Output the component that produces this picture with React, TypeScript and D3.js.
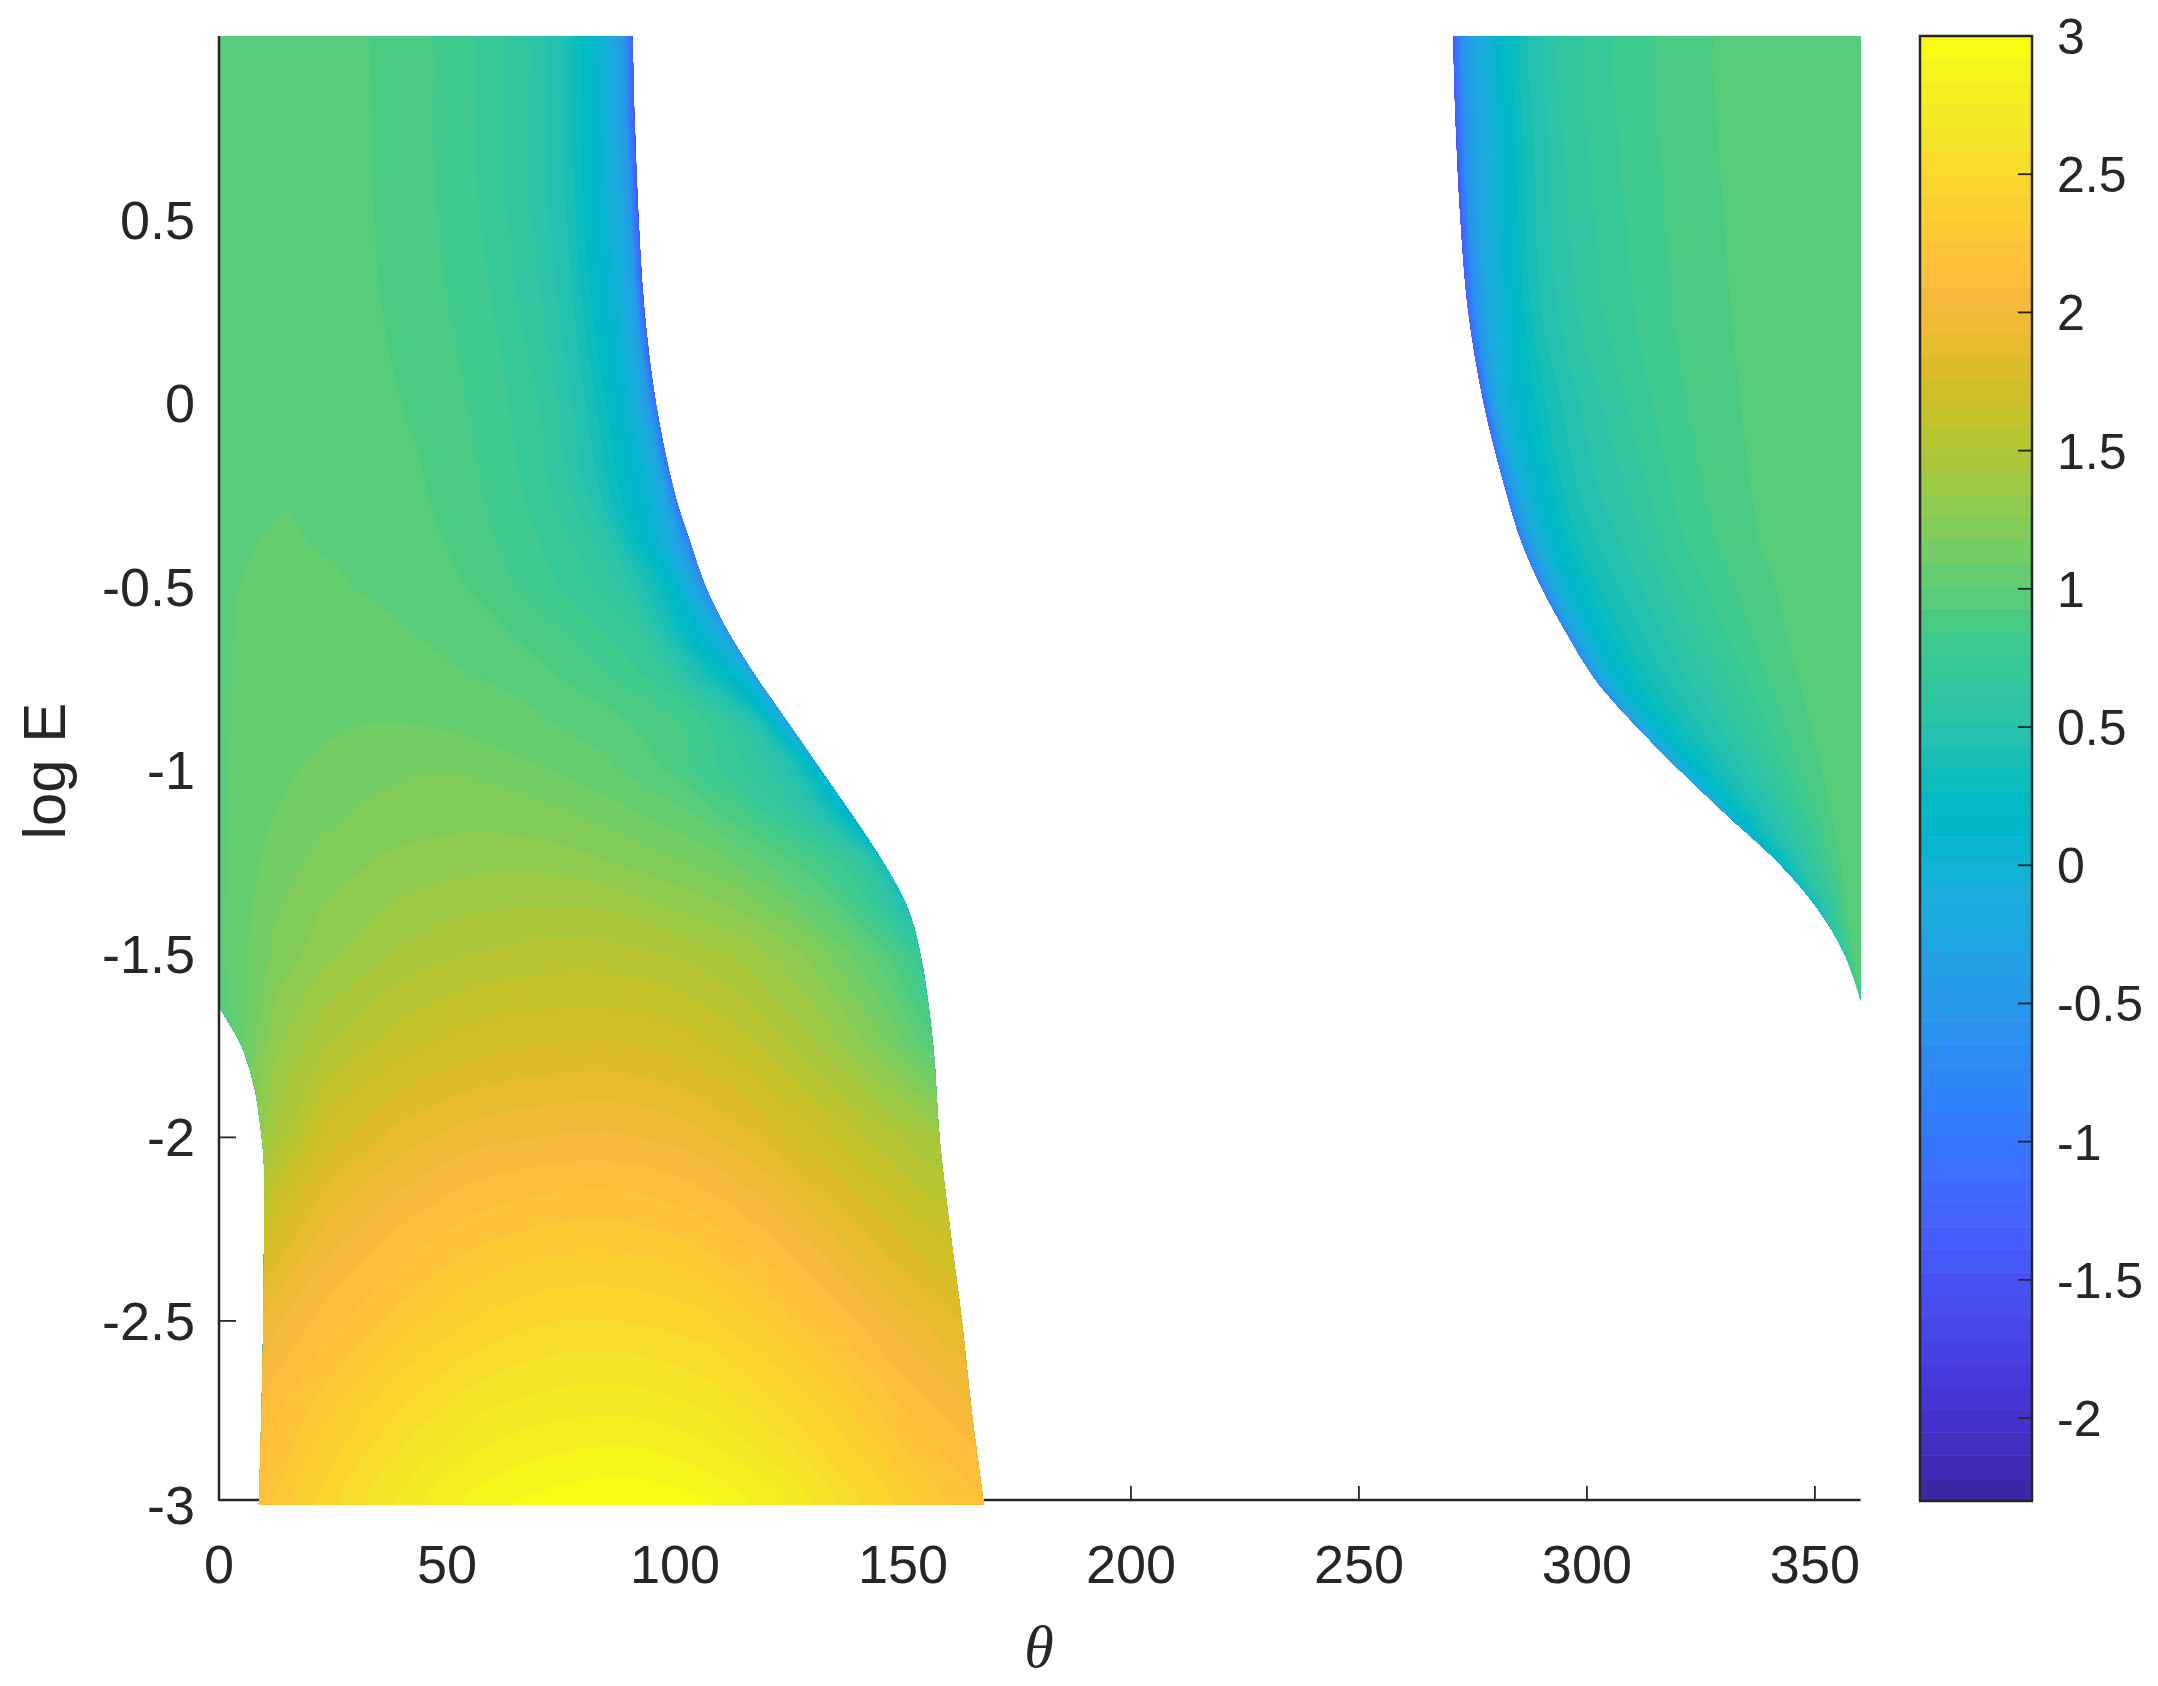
import React from 'react';
import * as d3 from 'd3';

// matlab parula, one row per contour band
const parula = [
  [0.2422,0.1504,0.6603],[0.2504,0.165,0.7076],[0.2578,0.1818,0.7511],[0.2647,0.1978,0.7952],
  [0.2706,0.2147,0.8364],[0.2751,0.2342,0.871],[0.2783,0.2559,0.8991],[0.2803,0.2782,0.9221],
  [0.2813,0.3006,0.9414],[0.281,0.3228,0.9579],[0.2795,0.3447,0.9717],[0.276,0.3667,0.9829],
  [0.2699,0.3892,0.9906],[0.2602,0.4123,0.9952],[0.244,0.4358,0.9988],[0.2206,0.4603,0.9973],
  [0.1963,0.4847,0.9892],[0.1834,0.5074,0.9798],[0.1786,0.5289,0.9682],[0.1764,0.5499,0.952],
  [0.1687,0.5703,0.9359],[0.154,0.5902,0.9218],[0.146,0.6091,0.9079],[0.138,0.6276,0.8973],
  [0.1248,0.6459,0.8883],[0.1113,0.6635,0.8763],[0.0952,0.6798,0.8598],[0.0689,0.6948,0.8394],
  [0.0297,0.7082,0.8163],[0.0036,0.7203,0.7917],[0.0067,0.7312,0.766],[0.0433,0.7411,0.7394],
  [0.0964,0.75,0.712],[0.1408,0.7584,0.6842],[0.1717,0.767,0.6554],[0.1938,0.7758,0.6251],
  [0.2161,0.7843,0.5923],[0.247,0.7918,0.5567],[0.2906,0.7973,0.5188],[0.3406,0.8008,0.4789],
  [0.3909,0.8029,0.4354],[0.4456,0.8024,0.3909],[0.5044,0.7993,0.348],[0.5616,0.7942,0.3045],
  [0.6174,0.7876,0.2612],[0.672,0.7793,0.2227],[0.7242,0.7698,0.191],[0.7738,0.7598,0.1646],
  [0.8203,0.7498,0.1535],[0.8634,0.7406,0.1596],[0.9035,0.733,0.1774],[0.9393,0.7288,0.21],
  [0.9728,0.7298,0.2394],[0.9956,0.7434,0.2371],[0.997,0.7659,0.2199],[0.9952,0.7893,0.2028],
  [0.9892,0.8136,0.1885],[0.9786,0.8386,0.1766],[0.9676,0.8639,0.1643],[0.961,0.889,0.1537],
  [0.9597,0.9135,0.1423],[0.9628,0.9373,0.1265],[0.9691,0.9606,0.1064],[0.9769,0.9839,0.0805],
];

const thetaTicks = [0, 50, 100, 150, 200, 250, 300, 350];
const logETicks = [-3, -2.5, -2, -1.5, -1, -0.5, 0, 0.5];
const barTicks = [3, 2.5, 2, 1.5, 1, 0.5, 0, -0.5, -1, -1.5, -2];
const barMin = -2.3;
const barMax = 3;

// left lobe: each row runs from theta=0 to leftEdge, columns are fractions of that
const leftFractions = [0, 0.04, 0.08, 0.15, 0.25, 0.35, 0.45, 0.55, 0.65, 0.75, 0.83, 0.9, 0.95, 0.98, 1];
const leftRows = [-3, -2.75, -2.5, -2.25, -2, -1.75, -1.5, -1.375, -1.25, -1.125, -1, -0.875, -0.75, -0.625, -0.5, -0.375, -0.25, 0, 0.25, 0.5, 0.75, 1];
const leftEdge = [167.8, 165.1, 162.9, 160.3, 158, 156.6, 153.8, 151, 145.6, 139, 132, 125, 118, 111.7, 106.7, 103.2, 100, 95.8, 93.3, 92, 91.2, 90.7];
const leftValues = [
  [2.1, 2.18, 2.28, 2.48, 2.72, 2.89, 2.97, 2.99, 2.91, 2.73, 2.53, 2.37, 2.27, 2.22, 2.18],
  [2.0, 2.05, 2.17, 2.33, 2.53, 2.67, 2.73, 2.74, 2.67, 2.52, 2.37, 2.2, 2.1, 2.05, 2.02],
  [1.8, 1.88, 2.0, 2.14, 2.3, 2.43, 2.5, 2.5, 2.45, 2.3, 2.15, 2.0, 1.92, 1.87, 1.85],
  [1.5, 1.58, 1.75, 1.95, 2.1, 2.21, 2.27, 2.28, 2.22, 2.08, 1.93, 1.8, 1.72, 1.67, 1.65],
  [1.1, 1.25, 1.45, 1.72, 1.88, 1.97, 2.01, 2.02, 1.97, 1.84, 1.7, 1.58, 1.49, 1.44, 1.42],
  [0.93, 1.12, 1.33, 1.5, 1.64, 1.72, 1.76, 1.77, 1.72, 1.6, 1.44, 1.28, 1.14, 1.03, 0.97],
  [0.992, 1.095, 1.195, 1.315, 1.435, 1.505, 1.54, 1.54, 1.5, 1.4, 1.27, 1.1, 0.95, 0.82, 0.7],
  [0.994, 1.075, 1.165, 1.265, 1.35, 1.41, 1.43, 1.425, 1.34, 1.26, 1.12, 0.96, 0.76, 0.58, 0.45],
  [0.994, 1.065, 1.12, 1.2, 1.275, 1.305, 1.315, 1.285, 1.22, 1.13, 1.0, 0.86, 0.72, 0.56, 0.35],
  [0.997, 1.05, 1.09, 1.15, 1.2, 1.23, 1.225, 1.19, 1.115, 1.02, 0.87, 0.68, 0.5, 0.28, 0.1],
  [0.999, 1.035, 1.065, 1.105, 1.15, 1.175, 1.155, 1.095, 1.03, 0.92, 0.77, 0.64, 0.5, 0.27, 0.05],
  [1.004, 1.02, 1.045, 1.07, 1.095, 1.095, 1.06, 1.03, 0.985, 0.91, 0.83, 0.66, 0.46, 0.1, -0.25],
  [1.0, 1.02, 1.03, 1.04, 1.04, 1.03, 1.02, 0.995, 0.92, 0.825, 0.72, 0.44, 0.2, 0.05, -0.3],
  [0.992, 1.02, 1.025, 1.03, 1.03, 1.025, 0.987, 0.945, 0.87, 0.775, 0.683, 0.33, 0.07, -0.15, -0.45],
  [1.0, 1.012, 1.02, 1.03, 1.02, 0.99, 0.965, 0.905, 0.81, 0.717, 0.59, 0.35, 0.05, -0.3, -0.7],
  [0.97, 0.995, 1.012, 1.02, 1.0, 0.975, 0.95, 0.88, 0.795, 0.69, 0.53, 0.2, -0.05, -0.4, -0.9],
  [0.97, 0.985, 1.004, 1.008, 0.985, 0.965, 0.935, 0.873, 0.786, 0.655, 0.46, 0.2, 0.0, -0.3, -1.0],
  [0.97, 0.97, 0.98, 0.98, 0.965, 0.95, 0.92, 0.86, 0.78, 0.66, 0.465, 0.22, -0.02, -0.4, -1.1],
  [0.97, 0.97, 0.97, 0.97, 0.96, 0.945, 0.9, 0.842, 0.76, 0.62, 0.45, 0.18, -0.03, -0.38, -1.25],
  [0.97, 0.97, 0.97, 0.97, 0.955, 0.94, 0.89, 0.83, 0.74, 0.59, 0.43, 0.15, -0.1, -0.45, -1.35],
  [0.97, 0.97, 0.97, 0.97, 0.955, 0.938, 0.89, 0.825, 0.73, 0.585, 0.43, 0.15, -0.15, -0.5, -1.38],
  [0.97, 0.97, 0.97, 0.97, 0.955, 0.935, 0.89, 0.82, 0.73, 0.59, 0.44, 0.15, -0.18, -0.55, -1.4],
];
// white notch at the lower left of the left lobe
const notchTheta = [8.8, 9.6, 9.9, 9.9, 9.1, 7.7, 4.9, 0];
const notchLogE = [-3, -2.6, -2.25, -2.08, -1.97, -1.86, -1.75, -1.645];

// right lobe: columns are fractions of the way from theta=360 back to rightEdge
const rightFractions = [0, 0.15, 0.3, 0.45, 0.55, 0.65, 0.75, 0.83, 0.9, 0.95, 0.98, 1];
const rightRows = [-1.628, -1.5, -1.375, -1.25, -1.125, -1, -0.875, -0.75, -0.625, -0.5, -0.375, -0.25, 0, 0.25, 0.5, 0.75, 1];
const rightEdge = [360, 356.5, 350.5, 341.9, 331, 320.4, 310.5, 301.7, 295.5, 290, 285.6, 282.5, 277.4, 274, 272.3, 271.3, 270.7];
const rightValues = [
  [0.9, 0.9, 0.9, 0.9, 0.9, 0.9, 0.9, 0.9, 0.9, 0.9, 0.9, 0.9],
  [1.0, 1.0, 0.98, 0.96, 0.92, 0.87, 0.82, 0.77, 0.72, 0.68, 0.66, 0.62],
  [1.0, 1.0, 0.95, 0.82, 0.75, 0.67, 0.6, 0.53, 0.47, 0.42, 0.38, 0.35],
  [1.0, 0.99, 0.89, 0.76, 0.68, 0.59, 0.5, 0.42, 0.33, 0.24, 0.18, 0.12],
  [1.0, 0.98, 0.87, 0.72, 0.6, 0.5, 0.42, 0.33, 0.22, 0.1, 0.0, -0.1],
  [1.0, 0.975, 0.87, 0.725, 0.6, 0.5, 0.4, 0.3, 0.18, 0.03, -0.1, -0.25],
  [1.0, 0.975, 0.88, 0.725, 0.61, 0.5, 0.4, 0.3, 0.17, 0.0, -0.2, -0.45],
  [1.0, 0.975, 0.895, 0.74, 0.623, 0.52, 0.41, 0.3, 0.15, -0.05, -0.3, -0.6],
  [1.0, 0.975, 0.91, 0.777, 0.666, 0.55, 0.42, 0.32, 0.15, -0.1, -0.35, -0.7],
  [0.99, 0.97, 0.918, 0.8, 0.69, 0.56, 0.44, 0.33, 0.15, -0.1, -0.4, -0.8],
  [0.985, 0.97, 0.93, 0.83, 0.735, 0.585, 0.47, 0.36, 0.15, -0.1, -0.42, -0.85],
  [0.98, 0.965, 0.935, 0.84, 0.745, 0.61, 0.5, 0.38, 0.15, -0.07, -0.42, -0.9],
  [0.96, 0.96, 0.94, 0.856, 0.767, 0.65, 0.51, 0.37, 0.15, -0.05, -0.45, -1.15],
  [0.96, 0.96, 0.945, 0.87, 0.79, 0.69, 0.56, 0.4, 0.07, -0.2, -0.6, -1.2],
  [0.96, 0.96, 0.95, 0.875, 0.8, 0.7, 0.57, 0.39, 0.05, -0.25, -0.62, -1.3],
  [0.96, 0.96, 0.955, 0.885, 0.81, 0.72, 0.58, 0.38, 0.03, -0.28, -0.65, -1.35],
  [0.96, 0.96, 0.955, 0.885, 0.81, 0.72, 0.58, 0.38, 0.03, -0.3, -0.65, -1.4],
];

const W = 2158;
const H = 1686;
const plot = { left: 219, right: 1860.5, top: 36, bottom: 1504.5, axisY: 1500 };
const bar = { left: 1920, right: 2032, top: 36, bottom: 1501 };
const ink = '#262626';
const sans = '"Liberation Sans", Arial, sans-serif';

const xScale = d3.scaleLinear().domain([0, 360]).range([plot.left, plot.right]);
const yScale = d3.scaleLinear().domain([-3, 1]).range([plot.bottom, plot.top]);
const barScale = d3.scaleLinear().domain([barMin, barMax]).range([bar.bottom, bar.top]);

const rgb = (c: number[]) => d3.rgb(c[0] * 255, c[1] * 255, c[2] * 255).formatHex();
const levels = parula.map((_, i) => barMin + (i * (barMax - barMin)) / parula.length);

// d3.contours puts node k at k + 0.5; the outer half cell runs past the data so the
// clip path, not the grid, decides where the fill stops
const gridScale = (out: number[], pad: number) =>
  d3.scaleLinear()
    .domain([0, ...out.map((_, i) => i + 0.5), out.length])
    .range([out[0] - pad, ...out, out[out.length - 1] + pad]);

const smoothRing = d3.line().curve(d3.curveCatmullRomClosed.alpha(0.5));

function bands(values: number[][], fractions: number[], rows: number[], edge: number[], mirror: boolean) {
  const fx = gridScale(fractions, 0.03);
  const fy = gridScale(rows, 0.06);
  const fe = d3.scaleLinear().domain(edge.map((_, i) => i + 0.5)).range(edge).clamp(true);
  const theta = (gx: number, gy: number) =>
    mirror ? 360 - (360 - fe(gy)) * fx(gx) : fe(gy) * fx(gx);
  const sets = d3.contours().size([fractions.length, rows.length]).thresholds(levels)(values.flat());
  return sets
    .map((s, i) => ({
      color: rgb(parula[i]),
      d: s.coordinates
        .flatMap((poly) => poly)
        .map((ring) =>
          smoothRing(ring.slice(1).map(([gx, gy]) => [xScale(theta(gx, gy)), yScale(fy(gy))] as [number, number]))
        )
        .join(''),
    }))
    .filter((b) => b.d);
}

const curved = d3.line().curve(d3.curveCatmullRom.alpha(0.5));
const xy = (ts: number[], es: number[]) => ts.map((t, i) => [xScale(t), yScale(es[i])] as [number, number]);

const leftClip =
  curved(xy(notchTheta, notchLogE)) +
  `L${xScale(0)},${yScale(1)}` +
  curved(xy(leftEdge, leftRows).reverse())!.replace('M', 'L') +
  'Z';
const rightClip =
  curved(xy(rightEdge, rightRows)) +
  `L${xScale(360)},${yScale(1)}Z`;

const leftBands = bands(leftValues, leftFractions, leftRows, leftEdge, false);
const rightBands = bands(rightValues, rightFractions, rightRows, rightEdge, true);

export default function App() {
  return (
    <svg width={W} height={H} style={{ position: 'absolute', left: 0, top: 0, background: '#fff' }}>
      <defs>
        <clipPath id="left-lobe"><path d={leftClip} /></clipPath>
        <clipPath id="right-lobe"><path d={rightClip} /></clipPath>
      </defs>

      {/* bottom axis goes under the fill */}
      <line x1={plot.left} x2={plot.right} y1={plot.axisY} y2={plot.axisY} stroke={ink} strokeWidth={2.5} />
      {thetaTicks.map((t) => (
        <g key={t}>
          <line x1={xScale(t)} x2={xScale(t)} y1={plot.axisY} y2={plot.axisY - 14} stroke={ink} strokeWidth={1.8} />
          <text x={xScale(t)} y={1564} fontFamily={sans} fontSize={54} fill={ink} textAnchor="middle" dominantBaseline="central">{t}</text>
        </g>
      ))}
      {logETicks.map((t) => (
        <g key={t}>
          {t > -3 && <line x1={plot.left} x2={plot.left + 17} y1={yScale(t)} y2={yScale(t)} stroke={ink} strokeWidth={1.8} />}
          <text x={195} y={yScale(t)} fontFamily={sans} fontSize={54} fill={ink} textAnchor="end" dominantBaseline="central">{t}</text>
        </g>
      ))}

      <g clipPath="url(#left-lobe)">
        {leftBands.map((b, i) => <path key={i} d={b.d} fill={b.color} />)}
      </g>
      <g clipPath="url(#right-lobe)">
        {rightBands.map((b, i) => <path key={i} d={b.d} fill={b.color} />)}
      </g>

      <line x1={plot.left} x2={plot.left} y1={plot.top} y2={plot.axisY + 1} stroke={ink} strokeWidth={2.5} />

      <text transform="translate(44,771) rotate(-90)" fontFamily={sans} fontSize={60} fill={ink} textAnchor="middle" dominantBaseline="central">log E</text>
      <text x={1039} y={1647} fontFamily={'"Liberation Serif", serif'} fontStyle="italic" fontSize={60} fill={ink} textAnchor="middle" dominantBaseline="central">θ</text>

      {/* colorbar */}
      {parula.map((c, i) => (
        <rect
          key={i}
          x={bar.left}
          width={bar.right - bar.left}
          y={barScale(levels[i] + (barMax - barMin) / parula.length)}
          height={(bar.bottom - bar.top) / parula.length + 0.5}
          fill={rgb(c)}
        />
      ))}
      <rect x={bar.left} y={bar.top} width={bar.right - bar.left} height={bar.bottom - bar.top} fill="none" stroke={ink} strokeWidth={2.5} />
      {barTicks.map((t) => (
        <g key={t}>
          <line x1={bar.right - 14} x2={bar.right} y1={barScale(t)} y2={barScale(t)} stroke={ink} strokeWidth={1.8} />
          <text x={2057} y={barScale(t) + 1} fontFamily={sans} fontSize={50} fill={ink} dominantBaseline="central">{t}</text>
        </g>
      ))}
    </svg>
  );
}
